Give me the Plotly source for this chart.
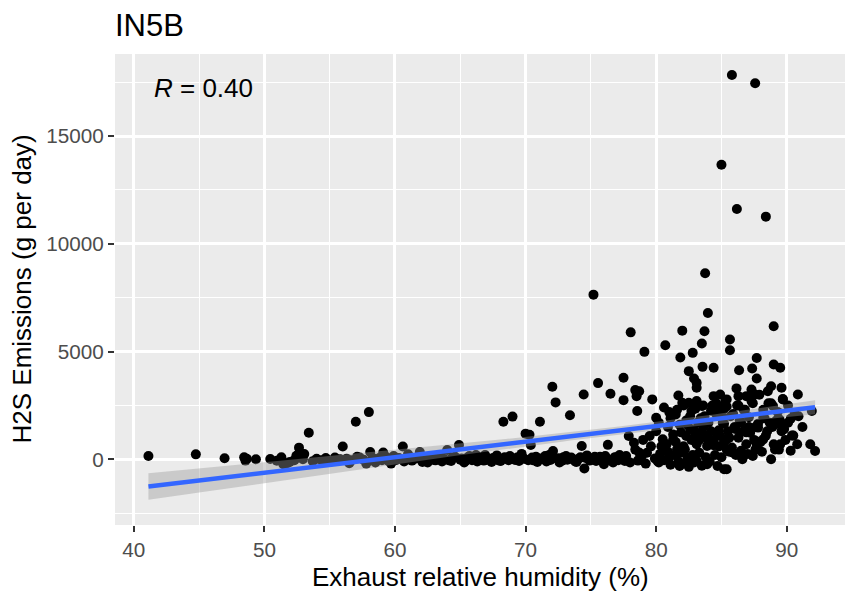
import numpy as np
import plotly.graph_objects as go

# IN5B - exhaust RH vs H2S emissions
humidity = [
    # low humidity, sparse
    41.12, 44.75, 46.95, 48.45, 48.55, 48.65, 49.35, 50.45, 50.95, 51.3, 51.45,
    51.75, 51.95, 52.3, 52.45, 52.65, 52.7, 52.95, 53.05, 53.4, 53.7, 54.0,
    # 54-69 band
    54.4, 54.7, 55.0, 55.4, 55.6, 55.8, 56.0, 56.3, 56.5, 56.7, 57.0, 57.1,
    57.3, 57.6, 57.8, 58.0, 58.1, 58.3, 58.5, 58.8, 59.0, 59.1, 59.3, 59.5,
    59.7, 59.9, 60.1, 60.3, 60.6, 60.7, 61.0, 61.1, 61.3, 61.5, 61.8, 61.9,
    62.1, 62.2, 62.5, 62.6, 62.8, 63.0, 63.1, 63.3, 63.4, 63.6, 63.7, 64.0,
    64.1, 64.3, 64.4, 64.6, 64.9, 65.0, 65.1, 65.3, 65.4, 65.6, 65.7, 65.9,
    66.0, 66.2, 66.3, 66.5, 66.6, 66.8, 66.9, 67.1, 67.2, 67.4, 67.5, 67.7,
    67.8, 68.0, 68.1, 68.3, 68.4, 68.5, 68.7, 68.8, 69.0, 69.1, 69.2,
    # 69-78
    69.4, 69.5, 69.7, 69.9, 70.0, 70.2, 70.3, 70.4, 70.5, 70.6, 70.8, 70.9,
    71.1, 71.2, 71.3, 71.5, 71.6, 71.8, 71.9, 72.05, 72.1, 72.2, 72.3, 72.5,
    72.6, 72.8, 72.9, 73.1, 73.2, 73.4, 73.5, 73.6, 73.8, 73.9, 74.1, 74.2,
    74.3, 74.45, 74.5, 74.6, 74.7, 74.9, 75.0, 75.2, 75.3, 75.4, 75.55, 75.6,
    75.7, 75.9, 76.0, 76.1, 76.2, 76.3, 76.5, 76.6, 76.7, 76.8, 76.9, 77.1,
    77.2, 77.3, 77.5, 77.5, 77.6, 77.7,
    # high humidity, upper points
    77.9, 78.05, 78.4, 78.5, 78.55, 78.7, 79.1, 79.7, 80.0, 80.7, 81.0, 81.5,
    81.7, 81.85, 82.0, 82.0, 82.5, 82.5, 82.7, 82.8, 82.9, 83.1, 83.1, 83.1,
    83.5, 83.5, 83.55, 83.7, 83.75, 83.96, 84.4, 84.4, 84.65, 84.9, 85.0, 85.15,
    85.4, 85.65, 85.65, 85.8, 86.15, 86.18, 86.3, 86.35, 86.9, 87.3, 87.35, 87.55,
    87.58, 87.7, 87.7, 87.8, 88.4, 88.55, 88.8, 88.95, 89.0, 89.0, 88.7, 89.45,
    89.5, 89.6, 89.6, 89.7, 90.3, 90.85, 91.92, 91.8, 92.17,
    # high humidity, lower cloud
    78.3, 79.5, 80.5, 78.7, 80.1, 81.6, 82.3, 83.4, 83.9, 84.9, 85.4, 84.7,
    85.4, 81.8, 83.1, 83.9, 88.2, 87.7, 87.4, 86.6, 85.9, 85.2, 85.4, 87.2,
    88.2, 88.8, 89.1,
    78.0, 78.4, 78.6, 78.9, 79.0, 79.2, 79.3, 79.6, 79.9, 80.0, 80.2, 80.3,
    80.6, 80.8, 80.9, 81.0, 81.1, 81.3, 81.4, 81.5, 81.7, 81.8, 81.9, 82.0, 82.1,
    82.3, 82.4, 82.5, 82.6, 82.7, 82.8, 82.9, 83.0, 83.1, 83.2, 83.3, 83.5,
    83.6, 83.7, 83.8, 84.0, 84.1, 84.2,
    84.3, 84.4, 84.5, 84.6, 84.7, 84.8, 84.9, 85.0, 85.1, 85.2, 85.3, 85.5,
    85.6, 85.7, 85.8, 86.0, 86.1, 86.2, 86.3,
    86.4, 86.5, 86.7, 86.8, 86.9, 87.0, 87.1, 87.3, 87.5, 87.6, 87.8, 87.9, 88.0,
    88.1, 88.3, 88.4, 88.6, 88.9, 89.0, 89.2, 89.4, 89.6, 89.7, 89.9, 90.1, 90.3,
    90.4, 90.6, 90.8,
    # high humidity, middle of the cloud
    80.2, 80.4, 80.6, 80.9, 81.1, 81.3, 81.6, 81.9, 82.1, 82.2, 82.4, 82.6,
    82.9, 83.0, 83.3, 83.4, 83.6, 83.9, 84.0, 84.2, 84.4, 84.6, 84.8, 85.0,
    85.2, 85.4, 85.6, 85.9, 86.1, 86.3, 86.5, 86.7, 86.9, 87.1, 87.4, 87.6,
    87.9, 88.2, 88.5, 88.8, 89.1, 89.3, 89.5, 89.8, 90.1, 90.5, 90.9, 91.2,
]

h2s = [
    150, 230, 45, 90, -60, 20, 0, 10, -70, 90, -230,
    -180, -120, -40, 160, 540, 320, 0, 240, 1235, -90, 20,
    -40, 60, -120, 80, -50, 0, 590, 30, -180, -40, 1745, 120,
    80, -20, -200, 2190, 340, 60, -150, 60, -40, 310, 120, -80,
    -200, 150, -30, 60, 590, -100, 230, 80, -60, 20, 80, 340,
    -120, 20, -150, 60, 100, -30, -50, 40, 180, -100, 30, 430,
    -40, -80, 80, 120, 660, -20, 40, -150, -60, 100, 150, -40,
    30, 200, -100, 20, 90, -60, 200, 40, -30, -120, 60, 20,
    180, -60, -80, 1745, 90, 40, -40, 150, 1980, 20, -30,
    100, -80, 250, 20, 1190, -40, 1140, 660, 80, -50, 120, -120,
    1745, 40, 30, 150, -100, 200, -30, 3365, 385, 60, 2640, 50,
    -150, -60, 100, 150, -20, 2040, 80, 20, -100, -120, 40, 90,
    620, 3010, -430, 60, 180, -60, 0, 7640, 120, -80, 3535, 30,
    120, -20, -230, 150, 40, 670, 3040, -60, -150, 80, 100, -40,
    200, 30, 3780, 2745, -80, 150,
    1080, 5890, 3210, 2930, 2240, 3160, 4985, 2780, 1930, 5290, 2190, 2080,
    2960, 4720, 5970, 2620, 4090, 2620, 2240, 4940, 3750, 3550, 3320, 2700,
    5370, 2470, 4290, 5940, 8630, 6790, 4245, 2930, 2470, 3010, 13670, 2310,
    2780, 5555, 5060, 17830, 3290, 11615, 2930, 4135, 2930, 3240, 4210, 3010,
    17450, 4700, 3750, 1470, 11260, 3160, 3390, 2470, 6170, 4400, 1700, 1850,
    4245, 3320, 1540, 2780, 1880, 3010, 2240, 695, 385,
    770, 1080, 925, 310, -80, 460, 1080, 1235, 620, 1080, 460, -310,
    -460, -310, -80, -230, 925, 690, 150, 0, 310, -460, 925, 1235,
    1930, 0, 460,
    -150, 450, -60, 150, 900, -200, 300, 600, 40, 1300, -150, 250,
    -40, 700, 1500, 100, -250, 1150, 200, 800, -100, 1600, 300, -200, 600,
    1800, 50, -350, 1400, 900, 200, -150, 1100, 700, 1700, 300, -300,
    1500, 2000, 100, 850, -100, 1300,
    2500, 900, 200, 2100, 1200, 600, 2400, 100, 1700, 800, 2700, 1300,
    350, 2000, 550, 1500, 200, 2500, 1000,
    1800, 400, 1300, 2300, 700, 250, 1500, 2700, 900, 450, 1650, 3000, 800,
    350, 1900, 1100, 2600, 1500, 700, 1800, 450, 1300, 2800, 900, 1700, 400,
    1100, 2100, 700,
    1700, 600, 2400, 350, 1900, 900, 2300, 1250, 2500, 450, 1600, 2000,
    1350, 2350, 900, 1900, 2500, 1100, 1700, 2250, 650, 2600, 1350, 2000,
    1650, 2450, 1000, 2100, 1400, 2500, 1700, 2300, 1250, 1950, 2600, 1500,
    800, 2300, 1300, 2600, 1700, 2200, 700, 1400, 2500, 1100, 2000, 1500,
]

x_ticks = [40, 50, 60, 70, 80, 90]
y_ticks = [0, 5000, 10000, 15000]
y_tick_labels = ["0", "5000", "10000", "15000"]

x = np.array(humidity, dtype=float)
y = np.array(h2s, dtype=float)
n = len(x)

# linear smoother with 95% band, like geom_smooth(method = "lm")
slope, intercept = np.polyfit(x, y, 1)
xs = np.linspace(x.min(), x.max(), 80)
fit = intercept + slope * xs
resid = y - (intercept + slope * x)
s = np.sqrt((resid ** 2).sum() / (n - 2))
sxx = ((x - x.mean()) ** 2).sum()
half = 1.966 * s * np.sqrt(1 / n + (xs - x.mean()) ** 2 / sxx)
r = np.corrcoef(x, y)[0, 1]
print("n =", n, "r =", r, "slope =", slope, "intercept =", intercept)

font = "Liberation Sans, Arial, sans-serif"

fig = go.Figure()
fig.add_trace(go.Scatter(x=x, y=y, mode="markers",
                         marker=dict(color="black", size=10, line=dict(width=0))))
fig.add_trace(go.Scatter(x=np.concatenate([xs, xs[::-1]]),
                         y=np.concatenate([fit + half, (fit - half)[::-1]]),
                         fill="toself", fillcolor="rgba(153,153,153,0.4)",
                         line=dict(width=0), mode="lines", hoverinfo="skip"))
fig.add_trace(go.Scatter(x=xs, y=fit, mode="lines",
                         line=dict(color="#3366FF", width=4.5)))

fig.update_layout(
    width=845, height=592,
    margin=dict(l=115, r=0, t=54, b=67),
    paper_bgcolor="white", plot_bgcolor="#EBEBEB",
    showlegend=False,
    font=dict(family=font, color="black"),
    title=dict(text="IN5B", x=115 / 845, xanchor="left", xref="container",
               y=1 - 25 / 592, yanchor="middle", yref="container",
               font=dict(size=31, color="black")),
)

axis_common = dict(
    showgrid=True, gridcolor="white", gridwidth=2.5,
    zeroline=False, showline=False,
    ticks="outside", ticklen=6, tickwidth=2.2, tickcolor="#333333",
    tickfont=dict(size=20.7, color="#4D4D4D", family=font),
)
fig.update_xaxes(range=[38.56, 94.46], tickvals=x_ticks,
                 minor=dict(tickvals=[45, 55, 65, 75, 85], showgrid=True,
                            gridcolor="white", gridwidth=1.2, ticks=""),
                 **axis_common)
fig.update_yaxes(range=[-3049, 18807], tickvals=y_ticks, ticktext=y_tick_labels,
                 minor=dict(tickvals=[-2500, 2500, 7500, 12500, 17500], showgrid=True,
                            gridcolor="white", gridwidth=1.2, ticks=""),
                 **axis_common)

fig.add_annotation(text="<i>R</i> = 0.40", x=41.4, y=17230, xref="x", yref="y",
                   xanchor="left", yanchor="middle", showarrow=False,
                   font=dict(size=26, color="black"))
fig.add_annotation(text="Exhaust relative humidity (%)", x=0.5, y=-(577 - 525) / 471,
                   xref="paper", yref="paper", xanchor="center", yanchor="middle",
                   showarrow=False, font=dict(size=26, color="black"))
fig.add_annotation(text="H2S Emissions (g per day)", x=-(115 - 21) / 730, y=0.5,
                   xref="paper", yref="paper", xanchor="center", yanchor="middle",
                   textangle=-90, showarrow=False, font=dict(size=26, color="black"))

# drop the default page margin so the figure sits at the window's corner
fig.write_html("out.html", config={"displayModeBar": False},
               post_script="document.body.style.margin='0';")
